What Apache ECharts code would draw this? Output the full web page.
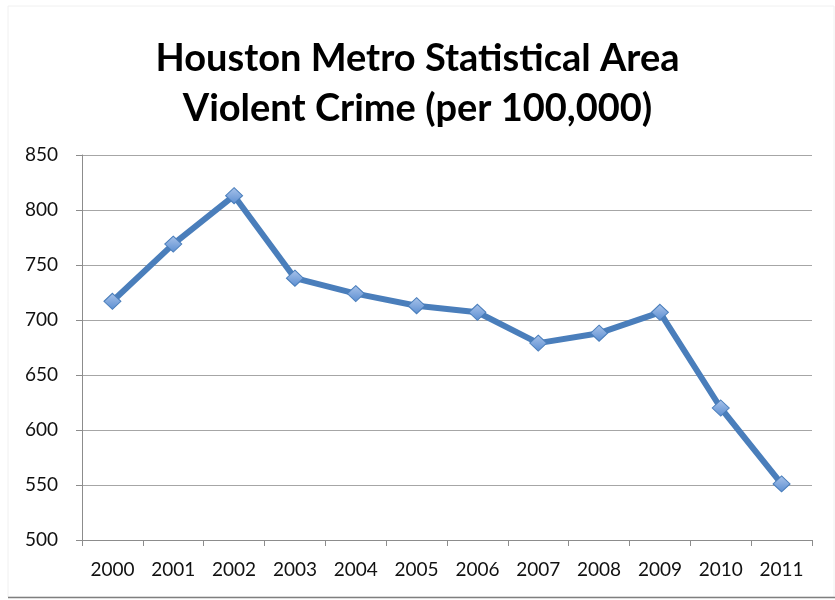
<!DOCTYPE html>
<html>
<head>
<meta charset="utf-8">
<script src="https://cdn.jsdelivr.net/npm/echarts@6/dist/echarts.min.js"></script>
<style>
html,body{margin:0;padding:0;background:#fff;}
#chart{width:835px;height:600px;}
</style>
</head>
<body>
<div id="chart"></div>
<script>
const years = ['2000','2001','2002','2003','2004','2005','2006','2007','2008','2009','2010','2011'];
const violentCrime = [717, 769, 813, 738, 724, 713, 707, 679, 688, 707, 620, 551];
const titleLines = ['Houston Metro Statistical Area', 'Violent Crime (per 100,000)'];

const chart = echarts.init(document.getElementById('chart'), null, {renderer: 'canvas'});
chart.setOption({
  backgroundColor: '#ffffff',
  animation: false,
  title: {
    text: titleLines.join('\n'),
    left: 'center',
    top: 29,
    textStyle: {
      fontFamily: 'Lato',
      fontWeight: 'bold',
      fontSize: 38,
      lineHeight: 50,
      color: '#000000'
    }
  },
  graphic: [
    {type: 'rect', shape: {x: 8, y: 6, width: 826, height: 591}, style: {fill: 'none', stroke: '#f0f0f0', lineWidth: 1}, silent: true},
    {type: 'line', shape: {x1: 8, y1: 597.5, x2: 835, y2: 597.5}, style: {stroke: '#7f7f7f', lineWidth: 1.5}, silent: true}
  ],
  grid: {left: 82, right: 23, top: 155, bottom: 60, containLabel: false},
  xAxis: {
    type: 'category',
    data: years,
    boundaryGap: true,
    axisLine: {lineStyle: {color: '#8c8c8c', width: 1}},
    axisTick: {show: true, length: 6, inside: false, alignWithLabel: false, lineStyle: {color: '#8c8c8c'}},
    axisLabel: {color: '#111111', fontFamily: 'Lato', fontSize: 19, margin: 20},
    splitLine: {show: false}
  },
  yAxis: {
    type: 'value',
    min: 500,
    max: 850,
    interval: 50,
    axisLine: {show: true, lineStyle: {color: '#8c8c8c', width: 1}},
    axisTick: {show: true, length: 6, lineStyle: {color: '#8c8c8c'}},
    axisLabel: {color: '#111111', fontFamily: 'Lato', fontSize: 19, margin: 24},
    splitLine: {show: true, lineStyle: {color: '#a6a6a6', width: 1}}
  },
  series: [{
    type: 'line',
    data: violentCrime,
    symbol: 'diamond',
    symbolSize: [17, 16],
    lineStyle: {color: '#4a7ebb', width: 6},
    itemStyle: {
      color: new echarts.graphic.LinearGradient(0, 0, 0, 1, [
        {offset: 0, color: '#a9c3ea'},
        {offset: 1, color: '#5b8ed1'}
      ]),
      borderColor: '#4a7ebb',
      borderWidth: 1
    },
    z: 3
  }]
});
</script>
</body>
</html>
